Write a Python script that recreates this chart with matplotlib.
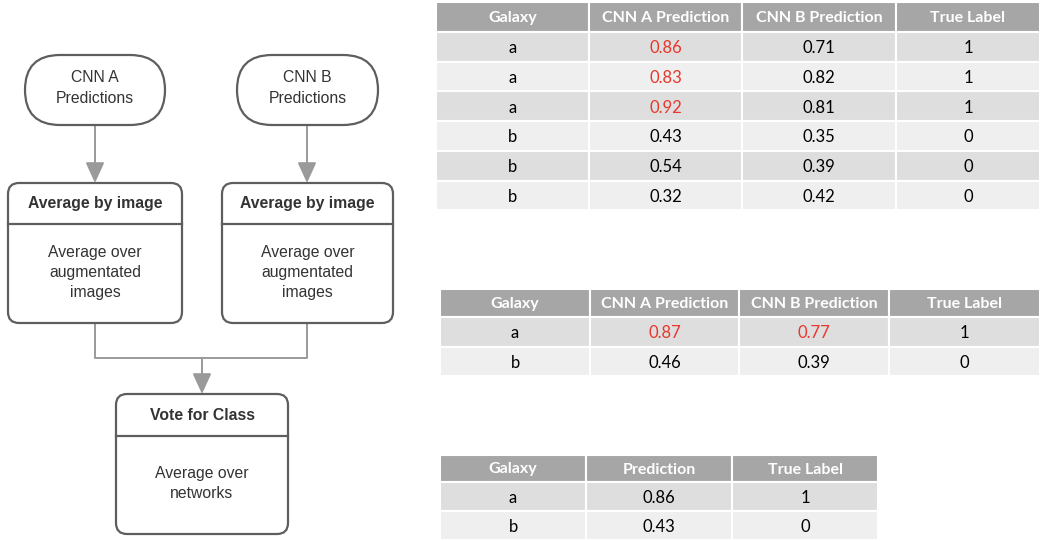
import matplotlib
matplotlib.use("Agg")
import matplotlib.pyplot as plt
from matplotlib.patches import FancyBboxPatch, Rectangle, FancyArrowPatch

# ---------------- data ----------------
t1_header = ["Galaxy", "CNN A Prediction", "CNN B Prediction", "True Label"]
t1_galaxy = ["a", "a", "a", "b", "b", "b"]
t1_cnn_a = ["0.86", "0.83", "0.92", "0.43", "0.54", "0.32"]
t1_cnn_b = ["0.71", "0.82", "0.81", "0.35", "0.39", "0.42"]
t1_label = ["1", "1", "1", "0", "0", "0"]
t1_red_a = [True, True, True, False, False, False]
t1_red_b = [False] * 6

t2_header = ["Galaxy", "CNN A Prediction", "CNN B Prediction", "True Label"]
t2_galaxy = ["a", "b"]
t2_cnn_a = ["0.87", "0.46"]
t2_cnn_b = ["0.77", "0.39"]
t2_label = ["1", "0"]
t2_red_a = [True, False]
t2_red_b = [True, False]

t3_header = ["Galaxy", "Prediction", "True Label"]
t3_galaxy = ["a", "b"]
t3_pred = ["0.86", "0.43"]
t3_label = ["1", "0"]

# ---------------- figure ----------------
fig = plt.figure(figsize=(10.4, 5.41), dpi=100)
ax = fig.add_axes([0, 0, 1, 1])
ax.set_xlim(0, 1040)
ax.set_ylim(541, 0)
ax.axis("off")

TXT = "#333333"
EDGE = "#5e5e5e"
CONN = "#9a9a9a"
DIAG_FONT = ["Liberation Sans", "DejaVu Sans"]
TAB_FONT = ["Lato", "DejaVu Sans"]
HEAD_BG = "#a6a6a6"
ROW_DARK = "#dedede"
ROW_LIGHT = "#efefef"
RED = "#e8372c"
FS = 11.3


def stadium(x0, y0, x1, y1, text):
    h = y1 - y0
    p = FancyBboxPatch((x0, y0), x1 - x0, h,
                       boxstyle=f"round,pad=0,rounding_size={h/2}",
                       fc="white", ec=EDGE, lw=1.6, zorder=3)
    ax.add_patch(p)
    ax.text((x0 + x1) / 2, (y0 + y1) / 2 - 2, text, ha="center", va="center",
            fontsize=FS, color=TXT, family=DIAG_FONT, linespacing=1.45, zorder=4)


def titled_box(x0, y0, x1, y1, ydiv, title, body, dy):
    p = FancyBboxPatch((x0, y0), x1 - x0, y1 - y0,
                       boxstyle="round,pad=0,rounding_size=11",
                       fc="white", ec=EDGE, lw=1.6, zorder=3)
    ax.add_patch(p)
    ax.plot([x0, x1], [ydiv, ydiv], color=EDGE, lw=1.6, zorder=4)
    ax.text((x0 + x1) / 2, (y0 + ydiv) / 2, title, ha="center", va="center",
            fontsize=FS, fontweight="bold", color=TXT, family=DIAG_FONT, zorder=4)
    ax.text((x0 + x1) / 2, (ydiv + y1) / 2 + dy, body, ha="center", va="center",
            fontsize=FS, color=TXT, family=DIAG_FONT, linespacing=1.45, zorder=4)


def arrow(x, y0, y1):
    a = FancyArrowPatch((x, y0), (x, y1), arrowstyle="-|>,head_length=0.7,head_width=0.32",
                        mutation_scale=18, color=CONN, lw=1.4, shrinkA=0, shrinkB=0, zorder=2)
    ax.add_patch(a)


# ---------------- diagram ----------------
stadium(25, 55, 165, 125, "CNN A\nPredictions")
stadium(237, 55, 378, 125, "CNN B\nPredictions")
arrow(95, 125, 183)
arrow(307, 125, 183)
titled_box(8, 183, 182, 323, 224, "Average by image", "Average over\naugmentated\nimages", -1)
titled_box(222, 183, 393, 323, 224, "Average by image", "Average over\naugmentated\nimages", -1)
ax.plot([95, 95, 307, 307], [323, 358, 358, 323], color=CONN, lw=1.4, zorder=2,
        solid_joinstyle="round")
arrow(202, 358, 394)
titled_box(116, 394, 288, 534, 436, "Vote for Class", "Average over\nnetworks", -1.5)


# ---------------- tables ----------------
def draw_table(xs, ytop, hh, rh, header, columns, reds):
    for i, name in enumerate(header):
        ax.add_patch(Rectangle((xs[i], ytop), xs[i + 1] - xs[i], hh, fc=HEAD_BG,
                               ec="white", lw=1.5, zorder=1))
        ax.text((xs[i] + xs[i + 1]) / 2, ytop + hh / 2 + 1, name, ha="center", va="center",
                fontsize=11.5, fontweight="bold", color="white", family=TAB_FONT, zorder=2)
    nrows = len(columns[0])
    for r in range(nrows):
        y = ytop + hh + r * rh
        bg = ROW_DARK if r % 2 == 0 else ROW_LIGHT
        for i, col in enumerate(columns):
            ax.add_patch(Rectangle((xs[i], y), xs[i + 1] - xs[i], rh, fc=bg,
                                   ec="white", lw=1.5, zorder=1))
            color = RED if reds[i][r] else "black"
            ax.text((xs[i] + xs[i + 1]) / 2, y + rh / 2 + 1.5, col[r], ha="center", va="center",
                    fontsize=12, color=color, family=TAB_FONT, zorder=2)


no_red6 = [False] * 6
no_red2 = [False] * 2
draw_table([436, 589, 742, 896, 1040], 2, 30, 29.7, t1_header,
           [t1_galaxy, t1_cnn_a, t1_cnn_b, t1_label],
           [no_red6, t1_red_a, t1_red_b, no_red6])
draw_table([440, 590, 739, 889, 1040], 289, 28, 29.5, t2_header,
           [t2_galaxy, t2_cnn_a, t2_cnn_b, t2_label],
           [no_red2, t2_red_a, t2_red_b, no_red2])
draw_table([440, 586, 732, 878], 455, 27, 29, t3_header,
           [t3_galaxy, t3_pred, t3_label],
           [no_red2, no_red2, no_red2])

fig.savefig("out.png", dpi=100, facecolor="white")
